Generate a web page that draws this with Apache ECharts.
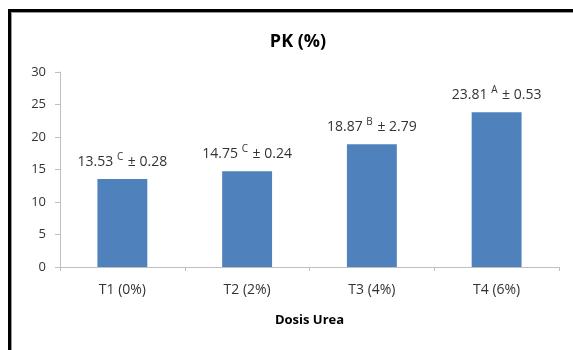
<!DOCTYPE html>
<html>
<head>
<meta charset="utf-8">
<script src="https://cdn.jsdelivr.net/npm/echarts@6/dist/echarts.min.js"></script>
<style>html,body{margin:0;padding:0;background:#fff}#c{width:573px;height:350px}</style>
</head>
<body>
<div id="c"></div>
<script>
const categories = ['T1 (0%)', 'T2 (2%)', 'T3 (4%)', 'T4 (6%)'];
const values = [13.53, 14.75, 18.87, 23.81];
const letters = ['C', 'C', 'B', 'A'];
const errors = ['0.28', '0.24', '2.79', '0.53'];
const yTicks = [0, 5, 10, 15, 20, 25, 30];

const FONT = '"Open Sans", "Liberation Sans", sans-serif';
const chart = echarts.init(document.getElementById('c'));
chart.setOption({
  animation: false,
  backgroundColor: '#ffffff',
  title: {
    text: 'PK (%)',
    left: 293, top: 28, textAlign: 'center',
    textStyle: { fontFamily: FONT, fontSize: 18, fontWeight: 'bold', color: '#000' }
  },
  grid: { left: 60, right: 14, top: 72, bottom: 83 },
  xAxis: {
    type: 'category',
    data: categories,
    axisLine: { lineStyle: { color: '#bfbfbf' } },
    axisTick: { show: true, length: 4, lineStyle: { color: '#bfbfbf' } },
    axisLabel: { margin: 16, fontFamily: FONT, fontSize: 14, color: '#333' },
    name: 'Dosis Urea',
    nameLocation: 'middle',
    nameGap: 47,
    nameTextStyle: { fontFamily: FONT, fontSize: 13, fontWeight: 'bold', color: '#000' }
  },
  yAxis: {
    type: 'value',
    min: yTicks[0], max: yTicks[yTicks.length - 1], interval: 5,
    splitLine: { show: false },
    axisLine: { show: true, lineStyle: { color: '#bfbfbf' } },
    axisTick: { show: true, length: 5, lineStyle: { color: '#bfbfbf' } },
    axisLabel: { margin: 14, fontFamily: FONT, fontSize: 13, color: '#333' }
  },
  series: [{
    type: 'bar',
    data: values,
    barWidth: '40%',
    itemStyle: { color: '#4f81bd' },
    label: {
      show: true,
      position: 'top',
      distance: 10,
      formatter: function (p) {
        return '{a|' + values[p.dataIndex].toFixed(2) + ' }{s|' + letters[p.dataIndex] + '}{a| ± ' + errors[p.dataIndex] + '}';
      },
      rich: {
        a: { fontFamily: FONT, fontSize: 14, color: '#333', verticalAlign: 'bottom' },
        s: { fontFamily: FONT, fontSize: 10, color: '#333', verticalAlign: 'top', padding: [0, 1, 7, 0] }
      }
    }
  }],
  graphic: [
    { type: 'rect', shape: { x: 8, y: 9, width: 565, height: 3 }, style: { fill: '#000' }, silent: true },
    { type: 'rect', shape: { x: 8, y: 9, width: 3, height: 341 }, style: { fill: '#000' }, silent: true },
    { type: 'rect', shape: { x: 11, y: 12, width: 562, height: 1 }, style: { fill: '#999' }, silent: true },
    { type: 'rect', shape: { x: 11, y: 12, width: 1, height: 338 }, style: { fill: '#999' }, silent: true }
  ]
});
</script>
</body>
</html>
